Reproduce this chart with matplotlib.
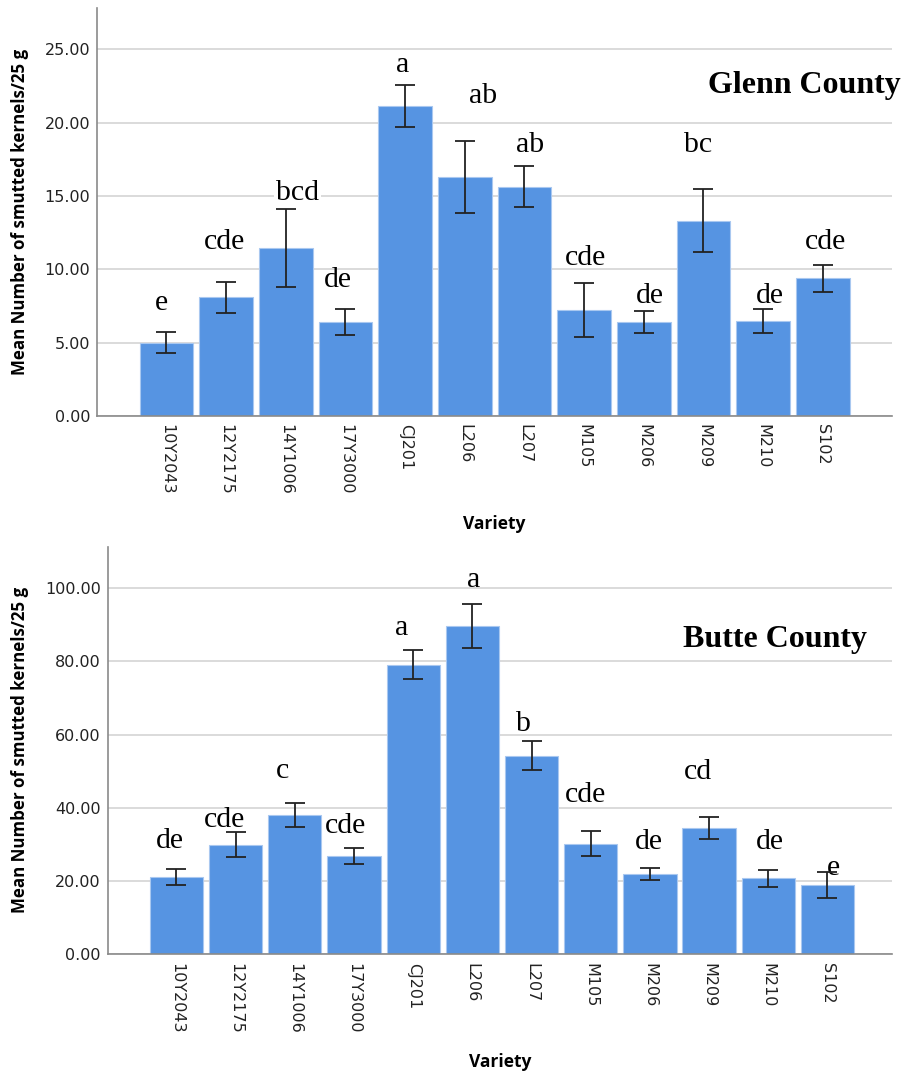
import matplotlib
matplotlib.use("Agg")
import matplotlib.pyplot as plt

varieties = ["10Y2043", "12Y2175", "14Y1006", "17Y3000", "CJ201", "L206",
             "L207", "M105", "M206", "M209", "M210", "S102"]

# Glenn County: mean smutted kernels per 25 g and error-bar half widths
glenn_mean = [5.0, 8.08, 11.47, 6.4, 21.14, 16.3, 15.62, 7.22, 6.4, 13.3, 6.47, 9.38]
glenn_err = [0.72, 1.05, 2.65, 0.89, 1.43, 2.46, 1.40, 1.83, 0.77, 2.15, 0.84, 0.94]
glenn_letters = ["e", "cde", "bcd", "de", "a", "ab", "ab", "cde", "de", "bc", "de", "cde"]

# Butte County
butte_mean = [21.1, 29.9, 38.0, 26.9, 79.1, 89.8, 54.3, 30.2, 21.9, 34.5, 20.8, 18.8]
butte_err = [2.3, 3.4, 3.3, 2.2, 3.9, 6.0, 4.05, 3.4, 1.65, 2.95, 2.3, 3.55]
butte_letters = ["de", "cde", "c", "cde", "a", "a", "b", "cde", "de", "cd", "de", "e"]

# where the significance letters sit (baseline height, sideways nudge)
glenn_letter_y = [7.2, 11.4, 14.7, 8.8, 23.45, 21.3, 18.0, 10.3, 7.7, 18.0, 7.7, 11.4]
glenn_letter_dx = [-0.08, -0.02, 0.2, -0.13, -0.05, 0.3, 0.1, 0.03, 0.1, -0.09, 0.12, 0.05]
butte_letter_y = [29.0, 34.9, 48.1, 33.1, 87.2, 100.4, 61.1, 41.7, 28.7, 47.8, 28.7, 21.7]
butte_letter_dx = [-0.11, -0.18, -0.2, -0.14, -0.19, 0.03, -0.14, -0.08, -0.01, -0.19, 0.03, 0.1]

BAR = "#5694e2"
GRID = "#d4d4d4"
AXIS_FONT = ["Open Sans", "DejaVu Sans"]
TICK_FONT = ["DejaVu Sans"]
SERIF = ["Liberation Serif", "DejaVu Serif"]


def draw_panel(ax, means, errs, letters, letter_y, letter_dx, ylim, yticks,
               xlim, county, county_xy, boxed=()):
    x = list(range(len(varieties)))
    ax.bar(x, means, width=0.9, color=BAR, edgecolor="#a9c8f0", linewidth=0.8, zorder=2)
    ax.errorbar(x, means, yerr=errs, fmt="none", ecolor="#222222",
                elinewidth=1.3, capsize=7.5, capthick=1.3, zorder=4)
    for i, lab in enumerate(letters):
        t = ax.text(i + letter_dx[i], letter_y[i], lab, ha="center", va="baseline",
                    fontsize=21.5, family=SERIF, zorder=3)
        if i in boxed:
            # white patch behind the label hides the gridline it sits on
            t.set_bbox(dict(fc="white", ec="none", pad=1.5))
    ax.text(county_xy[0], county_xy[1], county, transform=ax.transAxes,
            ha="left", va="baseline", fontsize=23, fontweight="bold",
            family=SERIF, clip_on=False, zorder=5)

    ax.set_xlim(*xlim)
    ax.set_ylim(*ylim)
    ax.set_yticks(yticks)
    ax.set_yticklabels([f"{t:.2f}" for t in yticks], fontsize=11.5,
                       color="#222222", family=TICK_FONT)
    ax.set_xticks(x)
    ax.set_xticklabels(varieties, rotation=-90, fontsize=11.5, color="#222222",
                       va="top", ha="center", family=TICK_FONT)
    ax.tick_params(axis="y", length=0, pad=5)
    ax.tick_params(axis="x", length=0, pad=6)
    ax.yaxis.grid(True, color=GRID, linewidth=1.2, zorder=0)
    ax.set_axisbelow(True)
    for side in ("top", "right"):
        ax.spines[side].set_visible(False)
    for side in ("left", "bottom"):
        ax.spines[side].set_color("#8a8a8a")
        ax.spines[side].set_linewidth(1.2)
    ax.set_xlabel("Variety", family=AXIS_FONT, fontweight="bold", fontsize=12.5,
                  labelpad=14)


fig = plt.figure(figsize=(9.03, 10.72), dpi=100)
ax_top = fig.add_axes([0.1074, 0.6119, 0.8804, 0.3806])
ax_bot = fig.add_axes([0.1193, 0.1098, 0.8685, 0.3797])

draw_panel(ax_top, glenn_mean, glenn_err, glenn_letters, glenn_letter_y,
           glenn_letter_dx, (0, 27.8), [0, 5, 10, 15, 20, 25],
           (-1.165, 12.16), "Glenn County", (0.7686, 0.7917), boxed=(2,))
draw_panel(ax_bot, butte_mean, butte_err, butte_letters, butte_letter_y,
           butte_letter_dx, (0, 111.2), [0, 20, 40, 60, 80, 100],
           (-1.16, 12.09), "Butte County", (0.734, 0.7558))

ylab = "Mean Number of smutted kernels/25 g"
fig.text(0.0221, 0.8022, ylab, rotation=90, ha="center", va="center",
         family=AXIS_FONT, fontweight="bold", fontsize=12.2)
fig.text(0.0221, 0.300, ylab, rotation=90, ha="center", va="center",
         family=AXIS_FONT, fontweight="bold", fontsize=12.2)

fig.savefig("out.png", dpi=100, facecolor="white")
